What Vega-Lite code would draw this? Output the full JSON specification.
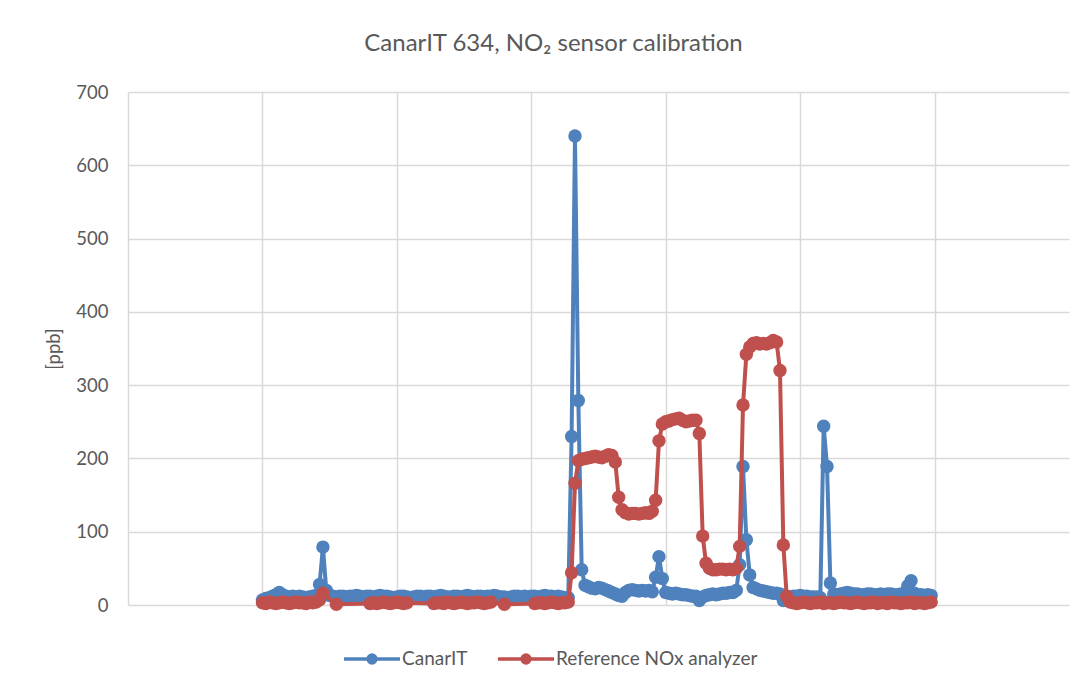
{
  "$schema": "https://vega.github.io/schema/vega-lite/v6.json",
  "width": 941,
  "height": 513,
  "autosize": {"type": "none"},
  "padding": {"left": 128, "top": 92, "right": 20, "bottom": 83},
  "background": "white",
  "config": {"view": {"stroke": null}, "font": "Lato"},
  "title": {"text": "CanarIT 634, NO₂ sensor calibration", "font": "Lato", "fontSize": 24, "fontWeight": "normal", "color": "#595959", "anchor": "middle", "frame": "group", "dx": -45, "offset": 27},
  "data": {"values": [
    {"t":1,"CanarIT":7,"Reference NOx analyzer":3},
    {"t":1.025,"CanarIT":9,"Reference NOx analyzer":2},
    {"t":1.05,"CanarIT":10,"Reference NOx analyzer":4},
    {"t":1.075,"CanarIT":12,"Reference NOx analyzer":3},
    {"t":1.1,"CanarIT":14,"Reference NOx analyzer":2},
    {"t":1.125,"CanarIT":17,"Reference NOx analyzer":3},
    {"t":1.15,"CanarIT":14,"Reference NOx analyzer":4},
    {"t":1.175,"CanarIT":12,"Reference NOx analyzer":3},
    {"t":1.2,"CanarIT":11,"Reference NOx analyzer":2},
    {"t":1.225,"CanarIT":12,"Reference NOx analyzer":3},
    {"t":1.25,"CanarIT":11,"Reference NOx analyzer":4},
    {"t":1.275,"CanarIT":12,"Reference NOx analyzer":3},
    {"t":1.3,"CanarIT":11,"Reference NOx analyzer":3},
    {"t":1.325,"CanarIT":10,"Reference NOx analyzer":2},
    {"t":1.35,"CanarIT":11,"Reference NOx analyzer":4},
    {"t":1.375,"CanarIT":12,"Reference NOx analyzer":3},
    {"t":1.4,"CanarIT":13,"Reference NOx analyzer":4},
    {"t":1.425,"CanarIT":28,"Reference NOx analyzer":7},
    {"t":1.45,"CanarIT":79,"Reference NOx analyzer":16},
    {"t":1.475,"CanarIT":20,"Reference NOx analyzer":null},
    {"t":1.5,"CanarIT":13,"Reference NOx analyzer":null},
    {"t":1.525,"CanarIT":12,"Reference NOx analyzer":null},
    {"t":1.55,"CanarIT":11,"Reference NOx analyzer":1},
    {"t":1.575,"CanarIT":12,"Reference NOx analyzer":null},
    {"t":1.6,"CanarIT":12,"Reference NOx analyzer":null},
    {"t":1.625,"CanarIT":11,"Reference NOx analyzer":null},
    {"t":1.65,"CanarIT":12,"Reference NOx analyzer":null},
    {"t":1.675,"CanarIT":12,"Reference NOx analyzer":null},
    {"t":1.7,"CanarIT":13,"Reference NOx analyzer":null},
    {"t":1.725,"CanarIT":12,"Reference NOx analyzer":null},
    {"t":1.75,"CanarIT":11,"Reference NOx analyzer":null},
    {"t":1.775,"CanarIT":12,"Reference NOx analyzer":null},
    {"t":1.8,"CanarIT":12,"Reference NOx analyzer":2},
    {"t":1.825,"CanarIT":11,"Reference NOx analyzer":3},
    {"t":1.85,"CanarIT":12,"Reference NOx analyzer":2},
    {"t":1.875,"CanarIT":13,"Reference NOx analyzer":3},
    {"t":1.9,"CanarIT":12,"Reference NOx analyzer":4},
    {"t":1.925,"CanarIT":12,"Reference NOx analyzer":3},
    {"t":1.95,"CanarIT":11,"Reference NOx analyzer":2},
    {"t":1.975,"CanarIT":10,"Reference NOx analyzer":3},
    {"t":2,"CanarIT":11,"Reference NOx analyzer":4},
    {"t":2.025,"CanarIT":12,"Reference NOx analyzer":3},
    {"t":2.05,"CanarIT":12,"Reference NOx analyzer":2},
    {"t":2.075,"CanarIT":11,"Reference NOx analyzer":3},
    {"t":2.1,"CanarIT":10,"Reference NOx analyzer":null},
    {"t":2.125,"CanarIT":11,"Reference NOx analyzer":null},
    {"t":2.15,"CanarIT":12,"Reference NOx analyzer":null},
    {"t":2.175,"CanarIT":12,"Reference NOx analyzer":null},
    {"t":2.2,"CanarIT":11,"Reference NOx analyzer":null},
    {"t":2.225,"CanarIT":12,"Reference NOx analyzer":null},
    {"t":2.25,"CanarIT":12,"Reference NOx analyzer":null},
    {"t":2.275,"CanarIT":11,"Reference NOx analyzer":2},
    {"t":2.3,"CanarIT":12,"Reference NOx analyzer":3},
    {"t":2.325,"CanarIT":13,"Reference NOx analyzer":3},
    {"t":2.35,"CanarIT":12,"Reference NOx analyzer":2},
    {"t":2.375,"CanarIT":11,"Reference NOx analyzer":4},
    {"t":2.4,"CanarIT":11,"Reference NOx analyzer":3},
    {"t":2.425,"CanarIT":12,"Reference NOx analyzer":2},
    {"t":2.45,"CanarIT":12,"Reference NOx analyzer":3},
    {"t":2.475,"CanarIT":11,"Reference NOx analyzer":4},
    {"t":2.5,"CanarIT":12,"Reference NOx analyzer":3},
    {"t":2.525,"CanarIT":13,"Reference NOx analyzer":2},
    {"t":2.55,"CanarIT":12,"Reference NOx analyzer":3},
    {"t":2.575,"CanarIT":11,"Reference NOx analyzer":3},
    {"t":2.6,"CanarIT":12,"Reference NOx analyzer":4},
    {"t":2.625,"CanarIT":12,"Reference NOx analyzer":3},
    {"t":2.65,"CanarIT":11,"Reference NOx analyzer":2},
    {"t":2.675,"CanarIT":12,"Reference NOx analyzer":3},
    {"t":2.7,"CanarIT":12,"Reference NOx analyzer":4},
    {"t":2.725,"CanarIT":13,"Reference NOx analyzer":null},
    {"t":2.75,"CanarIT":12,"Reference NOx analyzer":null},
    {"t":2.775,"CanarIT":11,"Reference NOx analyzer":null},
    {"t":2.8,"CanarIT":11,"Reference NOx analyzer":1},
    {"t":2.825,"CanarIT":10,"Reference NOx analyzer":null},
    {"t":2.85,"CanarIT":11,"Reference NOx analyzer":null},
    {"t":2.875,"CanarIT":12,"Reference NOx analyzer":null},
    {"t":2.9,"CanarIT":12,"Reference NOx analyzer":null},
    {"t":2.925,"CanarIT":11,"Reference NOx analyzer":null},
    {"t":2.95,"CanarIT":12,"Reference NOx analyzer":null},
    {"t":2.975,"CanarIT":11,"Reference NOx analyzer":null},
    {"t":3,"CanarIT":12,"Reference NOx analyzer":null},
    {"t":3.025,"CanarIT":12,"Reference NOx analyzer":2},
    {"t":3.05,"CanarIT":11,"Reference NOx analyzer":3},
    {"t":3.075,"CanarIT":12,"Reference NOx analyzer":3},
    {"t":3.1,"CanarIT":13,"Reference NOx analyzer":2},
    {"t":3.125,"CanarIT":12,"Reference NOx analyzer":3},
    {"t":3.15,"CanarIT":12,"Reference NOx analyzer":4},
    {"t":3.175,"CanarIT":11,"Reference NOx analyzer":3},
    {"t":3.2,"CanarIT":12,"Reference NOx analyzer":2},
    {"t":3.225,"CanarIT":11,"Reference NOx analyzer":3},
    {"t":3.25,"CanarIT":10,"Reference NOx analyzer":3},
    {"t":3.275,"CanarIT":10,"Reference NOx analyzer":4},
    {"t":3.3,"CanarIT":230,"Reference NOx analyzer":44},
    {"t":3.325,"CanarIT":640,"Reference NOx analyzer":166},
    {"t":3.35,"CanarIT":279,"Reference NOx analyzer":197},
    {"t":3.375,"CanarIT":48,"Reference NOx analyzer":199},
    {"t":3.4,"CanarIT":27,"Reference NOx analyzer":200},
    {"t":3.425,"CanarIT":25,"Reference NOx analyzer":201},
    {"t":3.45,"CanarIT":23,"Reference NOx analyzer":202},
    {"t":3.475,"CanarIT":22,"Reference NOx analyzer":203},
    {"t":3.5,"CanarIT":24,"Reference NOx analyzer":202},
    {"t":3.525,"CanarIT":23,"Reference NOx analyzer":201},
    {"t":3.55,"CanarIT":21,"Reference NOx analyzer":203},
    {"t":3.575,"CanarIT":19,"Reference NOx analyzer":205},
    {"t":3.6,"CanarIT":17,"Reference NOx analyzer":204},
    {"t":3.625,"CanarIT":15,"Reference NOx analyzer":195},
    {"t":3.65,"CanarIT":13,"Reference NOx analyzer":147},
    {"t":3.675,"CanarIT":12,"Reference NOx analyzer":130},
    {"t":3.7,"CanarIT":17,"Reference NOx analyzer":126},
    {"t":3.725,"CanarIT":20,"Reference NOx analyzer":124},
    {"t":3.75,"CanarIT":21,"Reference NOx analyzer":125},
    {"t":3.775,"CanarIT":20,"Reference NOx analyzer":125},
    {"t":3.8,"CanarIT":19,"Reference NOx analyzer":124},
    {"t":3.825,"CanarIT":20,"Reference NOx analyzer":125},
    {"t":3.85,"CanarIT":19,"Reference NOx analyzer":126},
    {"t":3.875,"CanarIT":20,"Reference NOx analyzer":125},
    {"t":3.9,"CanarIT":18,"Reference NOx analyzer":128},
    {"t":3.925,"CanarIT":38,"Reference NOx analyzer":143},
    {"t":3.95,"CanarIT":66,"Reference NOx analyzer":224},
    {"t":3.975,"CanarIT":36,"Reference NOx analyzer":247},
    {"t":4,"CanarIT":17,"Reference NOx analyzer":250},
    {"t":4.025,"CanarIT":16,"Reference NOx analyzer":251},
    {"t":4.05,"CanarIT":15,"Reference NOx analyzer":253},
    {"t":4.075,"CanarIT":16,"Reference NOx analyzer":254},
    {"t":4.1,"CanarIT":15,"Reference NOx analyzer":255},
    {"t":4.125,"CanarIT":14,"Reference NOx analyzer":252},
    {"t":4.15,"CanarIT":14,"Reference NOx analyzer":250},
    {"t":4.175,"CanarIT":13,"Reference NOx analyzer":251},
    {"t":4.2,"CanarIT":12,"Reference NOx analyzer":252},
    {"t":4.225,"CanarIT":12,"Reference NOx analyzer":252},
    {"t":4.25,"CanarIT":6,"Reference NOx analyzer":234},
    {"t":4.275,"CanarIT":11,"Reference NOx analyzer":94},
    {"t":4.3,"CanarIT":13,"Reference NOx analyzer":57},
    {"t":4.325,"CanarIT":14,"Reference NOx analyzer":50},
    {"t":4.35,"CanarIT":15,"Reference NOx analyzer":48},
    {"t":4.375,"CanarIT":14,"Reference NOx analyzer":48},
    {"t":4.4,"CanarIT":15,"Reference NOx analyzer":49},
    {"t":4.425,"CanarIT":16,"Reference NOx analyzer":49},
    {"t":4.45,"CanarIT":16,"Reference NOx analyzer":48},
    {"t":4.475,"CanarIT":17,"Reference NOx analyzer":49},
    {"t":4.5,"CanarIT":17,"Reference NOx analyzer":48},
    {"t":4.525,"CanarIT":20,"Reference NOx analyzer":50},
    {"t":4.55,"CanarIT":55,"Reference NOx analyzer":80},
    {"t":4.575,"CanarIT":189,"Reference NOx analyzer":273},
    {"t":4.6,"CanarIT":89,"Reference NOx analyzer":342},
    {"t":4.625,"CanarIT":41,"Reference NOx analyzer":352},
    {"t":4.65,"CanarIT":24,"Reference NOx analyzer":357},
    {"t":4.675,"CanarIT":22,"Reference NOx analyzer":358},
    {"t":4.7,"CanarIT":20,"Reference NOx analyzer":356},
    {"t":4.725,"CanarIT":19,"Reference NOx analyzer":357},
    {"t":4.75,"CanarIT":18,"Reference NOx analyzer":356},
    {"t":4.775,"CanarIT":17,"Reference NOx analyzer":358},
    {"t":4.8,"CanarIT":16,"Reference NOx analyzer":361},
    {"t":4.825,"CanarIT":16,"Reference NOx analyzer":359},
    {"t":4.85,"CanarIT":15,"Reference NOx analyzer":320},
    {"t":4.875,"CanarIT":6,"Reference NOx analyzer":82},
    {"t":4.9,"CanarIT":10,"Reference NOx analyzer":12},
    {"t":4.925,"CanarIT":11,"Reference NOx analyzer":4},
    {"t":4.95,"CanarIT":12,"Reference NOx analyzer":3},
    {"t":4.975,"CanarIT":12,"Reference NOx analyzer":2},
    {"t":5,"CanarIT":13,"Reference NOx analyzer":3},
    {"t":5.025,"CanarIT":12,"Reference NOx analyzer":4},
    {"t":5.05,"CanarIT":12,"Reference NOx analyzer":3},
    {"t":5.075,"CanarIT":11,"Reference NOx analyzer":2},
    {"t":5.1,"CanarIT":11,"Reference NOx analyzer":3},
    {"t":5.125,"CanarIT":11,"Reference NOx analyzer":3},
    {"t":5.15,"CanarIT":10,"Reference NOx analyzer":4},
    {"t":5.175,"CanarIT":244,"Reference NOx analyzer":2},
    {"t":5.2,"CanarIT":189,"Reference NOx analyzer":3},
    {"t":5.225,"CanarIT":30,"Reference NOx analyzer":3},
    {"t":5.25,"CanarIT":15,"Reference NOx analyzer":2},
    {"t":5.275,"CanarIT":14,"Reference NOx analyzer":3},
    {"t":5.3,"CanarIT":15,"Reference NOx analyzer":4},
    {"t":5.325,"CanarIT":16,"Reference NOx analyzer":3},
    {"t":5.35,"CanarIT":17,"Reference NOx analyzer":3},
    {"t":5.375,"CanarIT":16,"Reference NOx analyzer":2},
    {"t":5.4,"CanarIT":15,"Reference NOx analyzer":3},
    {"t":5.425,"CanarIT":15,"Reference NOx analyzer":4},
    {"t":5.45,"CanarIT":14,"Reference NOx analyzer":3},
    {"t":5.475,"CanarIT":14,"Reference NOx analyzer":2},
    {"t":5.5,"CanarIT":15,"Reference NOx analyzer":3},
    {"t":5.525,"CanarIT":15,"Reference NOx analyzer":3},
    {"t":5.55,"CanarIT":14,"Reference NOx analyzer":4},
    {"t":5.575,"CanarIT":14,"Reference NOx analyzer":2},
    {"t":5.6,"CanarIT":15,"Reference NOx analyzer":3},
    {"t":5.625,"CanarIT":14,"Reference NOx analyzer":3},
    {"t":5.65,"CanarIT":15,"Reference NOx analyzer":2},
    {"t":5.675,"CanarIT":15,"Reference NOx analyzer":4},
    {"t":5.7,"CanarIT":14,"Reference NOx analyzer":3},
    {"t":5.725,"CanarIT":14,"Reference NOx analyzer":3},
    {"t":5.75,"CanarIT":15,"Reference NOx analyzer":2},
    {"t":5.775,"CanarIT":15,"Reference NOx analyzer":3},
    {"t":5.8,"CanarIT":26,"Reference NOx analyzer":3},
    {"t":5.825,"CanarIT":33,"Reference NOx analyzer":4},
    {"t":5.85,"CanarIT":16,"Reference NOx analyzer":2},
    {"t":5.875,"CanarIT":14,"Reference NOx analyzer":3},
    {"t":5.9,"CanarIT":14,"Reference NOx analyzer":3},
    {"t":5.925,"CanarIT":13,"Reference NOx analyzer":2},
    {"t":5.95,"CanarIT":14,"Reference NOx analyzer":3},
    {"t":5.975,"CanarIT":13,"Reference NOx analyzer":4}
  ]},
  "transform": [
    {"fold": ["CanarIT", "Reference NOx analyzer"], "as": ["series", "ppb"]},
    {"filter": "isValid(datum.ppb)"}
  ],
  "encoding": {
    "x": {"field": "t", "type": "quantitative",
      "scale": {"domain": [0, 7], "nice": false, "zero": false},
      "axis": {"values": [0, 1, 2, 3, 4, 5, 6], "labels": false, "ticks": false, "domain": false, "title": null, "grid": true, "gridColor": "#d9d9d9", "gridWidth": 1.5}},
    "y": {"field": "ppb", "type": "quantitative",
      "scale": {"domain": [0, 700], "nice": false},
      "axis": {"values": [0, 100, 200, 300, 400, 500, 600, 700], "title": "[ppb]", "titleFont": "Lato", "titleFontSize": 18.5, "titleFontWeight": "normal", "titleColor": "#595959", "titlePadding": 12, "labelFont": "Lato", "labelFontSize": 18.5, "labelColor": "#595959", "labelPadding": 20, "ticks": false, "domain": false, "grid": true, "gridColor": "#d9d9d9", "gridWidth": 1.5}},
    "color": {"field": "series", "type": "nominal",
      "scale": {"domain": ["CanarIT", "Reference NOx analyzer"], "range": ["#4f81bd", "#c0504d"]},
      "legend": {"orient": "none", "legendX": 214, "legendY": 537, "direction": "horizontal", "title": null,
        "symbolType": "M-1,0L1,0M-0.14,0A0.14,0.14,0,1,1,0.14,0A0.14,0.14,0,1,1,-0.14,0Z",
        "symbolSize": 3136, "symbolStrokeWidth": 3.5, "labelFont": "Lato", "labelFontSize": 19, "labelColor": "#595959", "labelOffset": 0, "labelLimit": 0, "columnPadding": 23,
        "encode": {"symbols": {"update": {"fill": {"scale": "color", "field": "value"}, "stroke": {"scale": "color", "field": "value"}, "opacity": {"value": 1}}}}}}
  },
  "layer": [
    {"transform": [{"filter": "datum.series === 'CanarIT'"}],
     "mark": {"type": "line", "strokeWidth": 4, "point": {"filled": true, "size": 180, "opacity": 1}}},
    {"transform": [{"filter": "datum.series === 'Reference NOx analyzer'"}],
     "mark": {"type": "line", "strokeWidth": 4, "point": {"filled": true, "size": 180, "opacity": 1}}}
  ]
}
